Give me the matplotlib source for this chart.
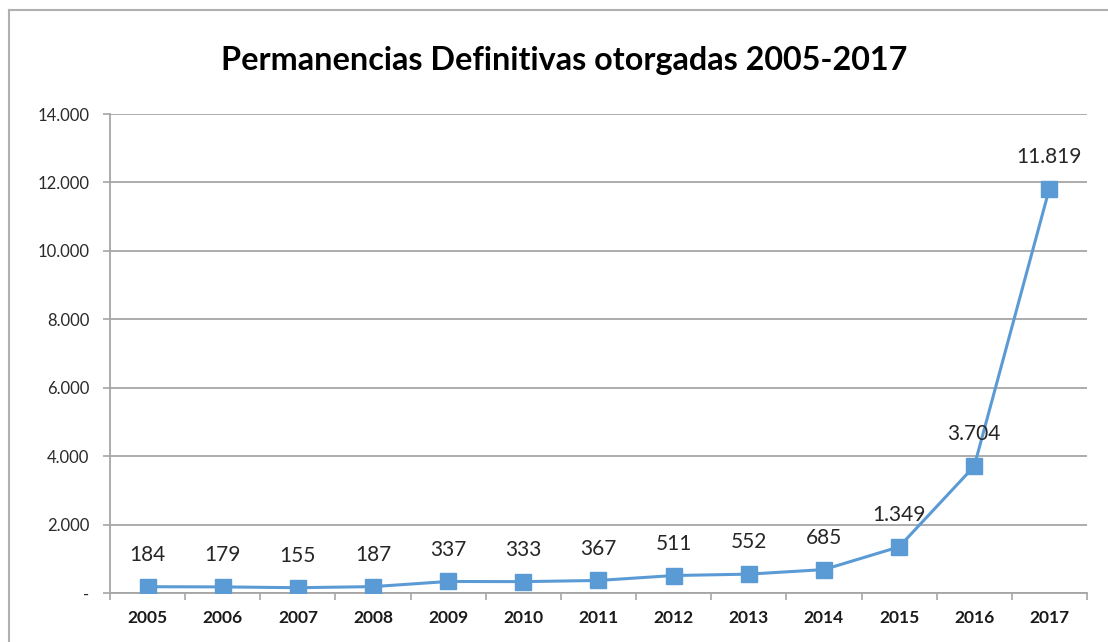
import numpy as np
import matplotlib
matplotlib.use('Agg')
import matplotlib.pyplot as plt
from matplotlib.lines import Line2D
from matplotlib.ticker import FuncFormatter, FixedLocator

plt.rcParams['font.family'] = ['Lato', 'DejaVu Sans']

# datos
anios = ['2005', '2006', '2007', '2008', '2009', '2010', '2011',
         '2012', '2013', '2014', '2015', '2016', '2017']
permanencias = [184, 179, 155, 187, 337, 333, 367, 511, 552, 685, 1349, 3704, 11819]
y_ticks = [0, 2000, 4000, 6000, 8000, 10000, 12000, 14000]

azul = '#5b9bd5'
gris = '#a6a6a6'


def miles(v):
    # formato con punto de miles, cero como guion
    if v == 0:
        return '-'
    return f'{int(v):,}'.replace(',', '.')


fig = plt.figure(figsize=(11.08, 6.42), dpi=100)
ax = fig.add_axes([0.0993, 0.0763, 0.8817, 0.7461])

x = np.arange(len(anios))
ax.plot(x, permanencias, color=azul, lw=2.2, marker='s', markersize=11,
        markerfacecolor=azul, markeredgecolor=azul, zorder=3)

# etiquetas de datos
for i, v in enumerate(permanencias):
    ax.annotate(miles(v), (x[i], v), xytext=(0, 23), textcoords='offset points',
                ha='center', va='center', fontsize=15, color='#262626')

ax.set_xlim(-0.5, len(anios) - 0.5)
ax.set_ylim(0, 14000)
ax.set_xticks(x)
ax.set_xticklabels(anios, fontsize=12.5, fontweight='bold', color='#1a1a1a')
ax.xaxis.set_minor_locator(FixedLocator(np.arange(-0.5, len(anios), 1)))
ax.tick_params(axis='x', which='major', length=0, pad=12)
ax.tick_params(axis='x', which='minor', length=5, color=gris, width=1.2)

ax.set_yticks(y_ticks)
ax.yaxis.set_major_formatter(FuncFormatter(lambda v, p: miles(v)))
ax.tick_params(axis='y', length=5, color=gris, width=1.2, pad=10,
               labelsize=12, labelcolor='#2a2a2a')

ax.grid(axis='y', color=gris, lw=1.3)
ax.set_axisbelow(True)
for s in ['top', 'right']:
    ax.spines[s].set_visible(False)
for s in ['left', 'bottom']:
    ax.spines[s].set_color(gris)
    ax.spines[s].set_linewidth(1.3)

fig.text(0.5095, 0.905, 'Permanencias Definitivas otorgadas 2005-2017',
         ha='center', va='center', fontsize=23.3, fontweight='bold', color='#000000')

# marco del grafico
fig.add_artist(Line2D([9 / 1108, 9 / 1108], [0, 1 - 10 / 642],
                      transform=fig.transFigure, color='#b0b0b0', lw=1.5))
fig.add_artist(Line2D([9 / 1108, 1], [1 - 10 / 642, 1 - 10 / 642],
                      transform=fig.transFigure, color='#b0b0b0', lw=1.5))

fig.savefig('out.png', dpi=100)
